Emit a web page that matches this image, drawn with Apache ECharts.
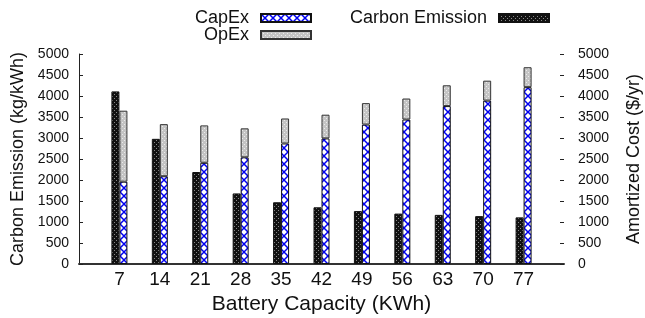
<!DOCTYPE html>
<html>
<head>
<meta charset="utf-8">
<script src="https://cdn.jsdelivr.net/npm/echarts@6/dist/echarts.min.js"></script>
<style>
  html, body { margin: 0; padding: 0; background: #fff; }
  #chart { width: 645px; height: 318px; }
</style>
</head>
<body>
<div id="chart"></div>
<script>
// battery capacity (KWh)
const capacity = [7, 14, 21, 28, 35, 42, 49, 56, 63, 70, 77];
// carbon emission (kg/kWh), left axis
const carbon = [4110, 2980, 2190, 1680, 1470, 1350, 1260, 1200, 1170, 1140, 1110];
// amortized cost ($/yr), right axis, stacked
const capex = [1960, 2090, 2410, 2540, 2870, 2990, 3320, 3440, 3760, 3890, 4210];
const opex = [1690, 1240, 890, 690, 595, 565, 510, 500, 495, 475, 475];

// the axis runs from 0 to 84, only the capacities are labelled
const axisStops = [0, ...capacity, 84].map(String);

const font = '"Liberation Sans", Arial, Helvetica, sans-serif';

// small canvas tiles used as fill patterns
function tile(size, draw) {
  const c = document.createElement('canvas');
  c.width = size;
  c.height = size;
  draw(c.getContext('2d'), size);
  return c;
}

const carbonTile = tile(4, (ctx, s) => {
  ctx.fillStyle = '#111';
  ctx.fillRect(0, 0, s, s);
  ctx.fillStyle = '#8a8a8a';
  ctx.fillRect(0, 0, 1, 1);
  ctx.fillRect(2, 2, 1, 1);
});

const opexTile = tile(4, (ctx, s) => {
  ctx.fillStyle = '#c4c4c4';
  ctx.fillRect(0, 0, s, s);
  ctx.fillStyle = '#ececec';
  ctx.fillRect(0, 0, 1, 1);
  ctx.fillRect(2, 2, 1, 1);
});

const capexTile = tile(8, (ctx, s) => {
  ctx.fillStyle = '#fff';
  ctx.fillRect(0, 0, s, s);
  ctx.strokeStyle = '#0000f0';
  ctx.lineWidth = 1.5;
  ctx.beginPath();
  ctx.moveTo(0, 0); ctx.lineTo(s, s);
  ctx.moveTo(s, 0); ctx.lineTo(0, s);
  ctx.stroke();
});

const pairs = arr => capacity.map((c, i) => [String(c), arr[i]]);

const chart = echarts.init(document.getElementById('chart'));

const legendBase = {
  orient: 'vertical',
  align: 'right',
  icon: 'rect',
  padding: 0,
  itemWidth: 50,
  itemHeight: 8,
  textStyle: { fontFamily: font, fontSize: 18, color: '#111', padding: [0, 7, 0, 0] }
};

const yBase = {
  type: 'value',
  min: 0,
  max: 5000,
  interval: 500,
  nameLocation: 'middle',
  nameRotate: 90,
  nameTextStyle: { fontFamily: font, fontSize: 18, color: '#111' },
  splitLine: { show: false },
  axisLabel: { fontFamily: font, fontSize: 14, color: '#111', formatter: v => String(v) }
};

chart.setOption({
  animation: false,
  backgroundColor: '#fff',
  grid: { left: 79, right: 81, top: 54, bottom: 54, outerBoundsMode: 'none', containLabel: false },
  legend: [
    Object.assign({}, legendBase, { right: 333, top: 9, data: ['CapEx'] }),
    Object.assign({}, legendBase, { right: 333, top: 26, data: ['OpEx'] }),
    Object.assign({}, legendBase, { right: 95, top: 9, data: ['Carbon Emission'] })
  ],
  xAxis: {
    type: 'category',
    data: axisStops,
    boundaryGap: false,
    name: 'Battery Capacity (KWh)',
    nameLocation: 'middle',
    nameGap: 27,
    nameTextStyle: { fontFamily: font, fontSize: 21, color: '#111' },
    splitLine: { show: false },
    axisTick: { show: false },
    axisLine: { lineStyle: { color: '#333', width: 2 } },
    axisLabel: {
      fontFamily: font, fontSize: 19, color: '#111', margin: 6, interval: 0,
      formatter: v => (v === '0' || v === '84' ? '' : v)
    }
  },
  yAxis: [
    Object.assign({}, yBase, {
      name: 'Carbon Emission (kg/kWh)',
      nameGap: 50,
      position: 'left',
      axisLine: { show: true, lineStyle: { color: '#222', width: 1 } },
      axisTick: { show: true, inside: true, length: 4, lineStyle: { color: '#222' } },
      axisLabel: Object.assign({}, yBase.axisLabel, { margin: 10 })
    }),
    Object.assign({}, yBase, {
      name: 'Amortized Cost ($/yr)',
      nameGap: 61,
      position: 'right',
      axisLine: { show: false },
      axisTick: { show: true, inside: true, length: 4, lineStyle: { color: '#222' } },
      axisLabel: Object.assign({}, yBase.axisLabel, { margin: 14 })
    })
  ],
  series: [
    {
      name: 'Carbon Emission',
      type: 'bar',
      yAxisIndex: 0,
      barWidth: 8,
      barGap: '0%',
      data: pairs(carbon),
      itemStyle: { color: { image: carbonTile, repeat: 'repeat' }, borderColor: '#111', borderWidth: 1 }
    },
    {
      name: 'CapEx',
      type: 'bar',
      yAxisIndex: 1,
      stack: 'cost',
      barWidth: 8,
      barGap: '0%',
      data: pairs(capex),
      itemStyle: { color: { image: capexTile, repeat: 'repeat' }, borderColor: '#111', borderWidth: 1 }
    },
    {
      name: 'OpEx',
      type: 'bar',
      yAxisIndex: 1,
      stack: 'cost',
      barWidth: 8,
      barGap: '0%',
      data: pairs(opex),
      itemStyle: { color: { image: opexTile, repeat: 'repeat' }, borderColor: '#333', borderWidth: 1 }
    }
  ]
});
</script>
</body>
</html>
